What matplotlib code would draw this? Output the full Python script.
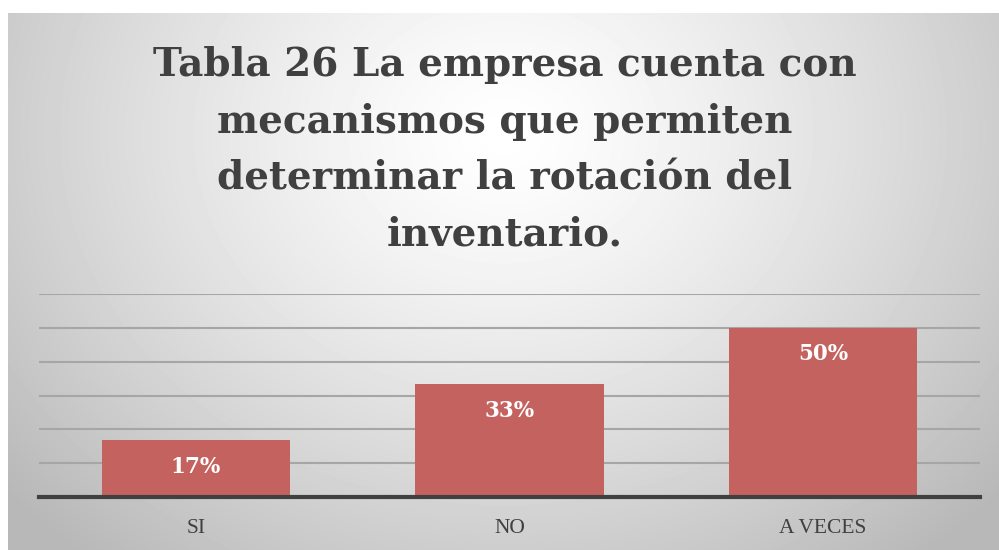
import numpy as np
import matplotlib
matplotlib.use("Agg")
import matplotlib.pyplot as plt

# --- DATA ---
categories = ["SI", "NO", "A VECES"]
values = [0.167, 0.333, 0.50]
labels = ["17%", "33%", "50%"]
title = "Tabla 26 La empresa cuenta con\nmecanismos que permiten\ndeterminar la rotación del\ninventario."

W, H = 999, 550
fig = plt.figure(figsize=(W / 100, H / 100), dpi=100)
fig.patch.set_facecolor("white")

# fondo con degradado radial
bg = fig.add_axes([8 / W, 0, 1 - 8 / W, 1 - 13 / H])
yy, xx = np.mgrid[0:537, 0:991]
cx, cy = 495, 120
d = np.sqrt(((xx - cx) / 620.0) ** 2 + ((yy - cy) / 520.0) ** 2)
g = np.clip(1.0 - 0.26 * d ** 1.3, 0.72, 1.0)
bg.imshow(g, cmap="gray", vmin=0, vmax=1, aspect="auto", interpolation="bilinear")
bg.axis("off")

# ejes del grafico
x0, x1 = 39, 980
ytop, ybot = 294, 497
ax = fig.add_axes([x0 / W, 1 - ybot / H, (x1 - x0) / W, (ybot - ytop) / H])
ax.patch.set_alpha(0)

pos = np.arange(len(categories))
ax.bar(pos, values, width=0.6, color="#C4625F", zorder=3)
ax.set_xlim(-0.5, 2.5)
ax.set_ylim(0, 0.6)
ax.set_yticks(np.arange(0.1, 0.61, 0.1))
ax.yaxis.grid(True, color="#A6A6A6", linewidth=1.5, zorder=0)
ax.tick_params(axis="y", left=False, labelleft=False)
ax.tick_params(axis="x", bottom=False, pad=12)
ax.set_xticks(pos)
ax.set_xticklabels(categories, fontsize=15.5, color="#404040", family="Liberation Serif")
for s in ["top", "right", "left"]:
    ax.spines[s].set_visible(False)
ax.spines["bottom"].set_color("#404040")
ax.spines["bottom"].set_linewidth(3)
ax.spines["bottom"].set_zorder(4)

for p, v, lab in zip(pos, values, labels):
    ax.annotate(lab, (p, v), xytext=(0, -19), textcoords="offset points", ha="center", va="center",
                fontsize=15.5, fontweight="bold", color="white", family="DejaVu Serif", zorder=5)

fig.text(0.505, 1 - 150 / H, title, ha="center", va="center", fontsize=28, fontweight="bold",
         color="#404040", family="DejaVu Serif", linespacing=1.62)

fig.savefig("out.png", dpi=100)
